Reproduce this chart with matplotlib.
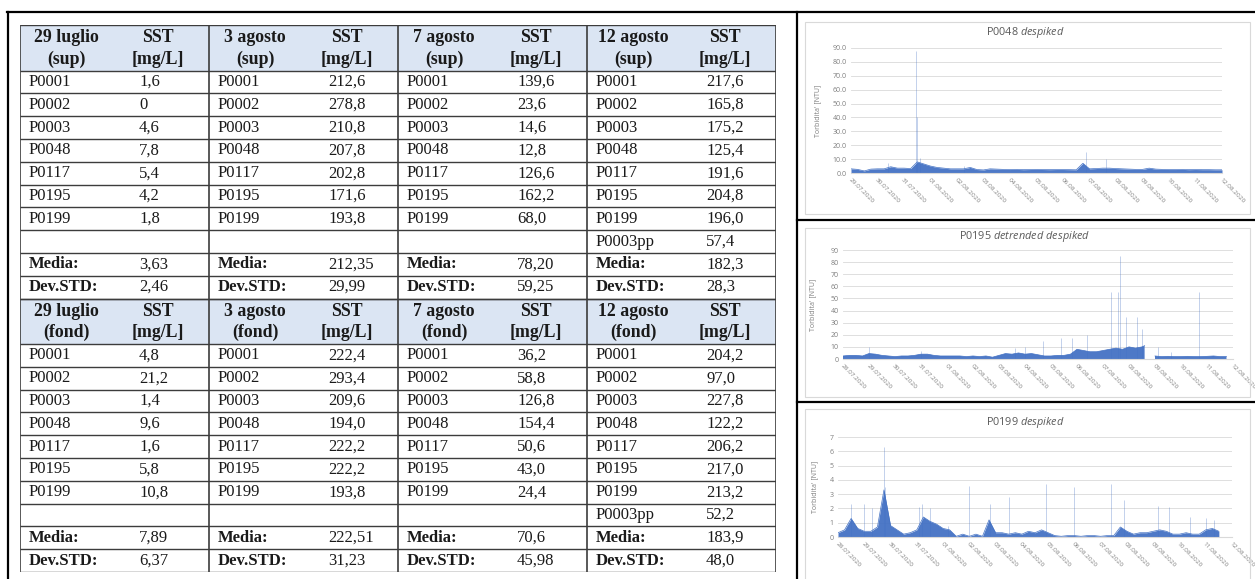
import matplotlib.pyplot as plt
import numpy as np
from matplotlib.lines import Line2D
from matplotlib.patches import Rectangle

plt.rcParams['mathtext.fontset'] = 'custom'
plt.rcParams['mathtext.rm'] = 'Open Sans'
plt.rcParams['mathtext.it'] = 'Open Sans:italic'

W, H = 1255, 579

# ── Table data ─────────────────────────────────────────────────────────
giorni = ["29 luglio", "3 agosto", "7 agosto", "12 agosto"]
stazioni = ["P0001", "P0002", "P0003", "P0048", "P0117", "P0195", "P0199"]

sst_sup = [
    ["1,6", "0", "4,6", "7,8", "5,4", "4,2", "1,8"],
    ["212,6", "278,8", "210,8", "207,8", "202,8", "171,6", "193,8"],
    ["139,6", "23,6", "14,6", "12,8", "126,6", "162,2", "68,0"],
    ["217,6", "165,8", "175,2", "125,4", "191,6", "204,8", "196,0"],
]
sst_fond = [
    ["4,8", "21,2", "1,4", "9,6", "1,6", "5,8", "10,8"],
    ["222,4", "293,4", "209,6", "194,0", "222,2", "222,2", "193,8"],
    ["36,2", "58,8", "126,8", "154,4", "50,6", "43,0", "24,4"],
    ["204,2", "97,0", "227,8", "122,2", "206,2", "217,0", "213,2"],
]
extra_staz = ["", "", "", "P0003pp"]
extra_sup = ["", "", "", "57,4"]
extra_fond = ["", "", "", "52,2"]
media_sup = ["3,63", "212,35", "78,20", "182,3"]
dev_sup = ["2,46", "29,99", "59,25", "28,3"]
media_fond = ["7,89", "222,51", "70,6", "183,9"]
dev_fond = ["6,37", "31,23", "45,98", "48,0"]

# ── Time series data (days after 28.07.2020, NTU) ─────────────────────
date_labels = ["28.07.2020", "29.07.2020", "30.07.2020", "31.07.2020",
               "01.08.2020", "02.08.2020", "03.08.2020", "04.08.2020",
               "05.08.2020", "06.08.2020", "07.08.2020", "08.08.2020",
               "09.08.2020", "10.08.2020", "11.08.2020", "12.08.2020"]

p0048_days = np.arange(1.0, 15.01, 0.25)
p0048_ntu = [3.0, 2.6, 1.5, 2.8, 3.0, 3.0, 4.5, 3.5, 3.5, 3.2, 8.0, 6.5,
             5.0, 4.0, 3.5, 3.0, 3.0, 3.0, 4.0, 2.5, 2.2, 3.0, 2.8, 2.6,
             2.5, 2.6, 2.4, 2.5, 2.6, 2.5, 2.4, 2.5, 2.5, 2.4, 2.3, 7.0,
             3.0, 3.2, 3.5, 3.5, 3.2, 3.0, 2.8, 2.6, 2.6, 3.5, 2.8, 2.6,
             2.5, 2.5, 2.6, 2.4, 2.5, 2.4, 2.4, 2.3, 2.3]
p0048_spk_days = [2.39, 3.47, 3.5, 3.6, 5.25, 9.87, 10.63]
p0048_spk_ntu = [7.0, 88.0, 40.0, 11.0, 5.0, 15.0, 10.0]

p0195_days = np.concatenate([np.arange(0.0, 11.51, 0.25), [11.6, 11.8],
                             np.arange(12.0, 14.76, 0.25)])
p0195_ntu = [2.5, 3.0, 3.0, 2.5, 4.5, 4.0, 3.0, 2.5, 2.0, 2.5, 2.5, 3.0,
             4.0, 4.0, 3.0, 2.5, 2.5, 2.5, 2.5, 2.0, 2.5, 2.0, 2.5, 1.5,
             3.0, 4.5, 4.0, 5.0, 4.0, 4.5, 3.5, 2.5, 2.5, 3.0, 3.0, 4.0,
             8.0, 7.0, 6.0, 6.0, 7.0, 8.0, 9.0, 8.0, 10.0, 9.0, 10.0, 11.0,
             np.nan,
             2.5, 2.0, 2.2, 2.0, 2.0, 2.2, 2.0, 2.0, 2.2, 2.5, 2.0, 2.0]
p0195_spk_days = [1.0, 3.0, 6.6, 7.0, 7.7, 8.4, 8.8, 9.4, 10.3, 10.58,
                  10.64, 10.9, 11.3, 11.5, 12.1, 12.6, 13.7]
p0195_spk_ntu = [10.0, 7.0, 9.0, 10.0, 15.0, 17.0, 17.0, 20.0, 55.0, 55.0,
                 85.0, 35.0, 35.0, 25.0, 10.0, 6.0, 55.0]

p0199_days = np.arange(0.0, 14.51, 0.25)
p0199_ntu = [0.3, 0.5, 1.3, 0.6, 0.4, 0.4, 0.7, 3.3, 0.8, 0.5, 0.2, 0.3,
             0.5, 1.4, 1.1, 0.9, 0.6, 0.5, 0.05, 0.2, 0.05, 0.2, 0.05, 1.2,
             0.3, 0.3, 0.2, 0.3, 0.2, 0.4, 0.3, 0.5, 0.3, 0.1, 0.05, 0.1,
             0.1, 0.05, 0.1, 0.1, 0.05, 0.1, 0.1, 0.7, 0.4, 0.2, 0.3, 0.3,
             0.4, 0.5, 0.4, 0.2, 0.2, 0.3, 0.2, 0.2, 0.5, 0.6, 0.4]
p0199_spk_days = [0.5, 1.0, 1.3, 1.75, 1.8, 3.1, 3.2, 3.5, 4.2, 5.0, 5.8,
                  6.5, 7.9, 9.0, 10.4, 10.9, 12.2, 12.6, 13.4, 14.0, 14.3]
p0199_spk_ntu = [2.3, 2.3, 2.0, 6.3, 3.5, 2.1, 2.3, 2.0, 0.8, 3.6, 2.3,
                 2.8, 3.7, 3.5, 3.7, 2.6, 2.2, 2.1, 1.4, 1.3, 1.2]

HEAD_BG = "#dbe5f3"
LINE_C = "#3c3c3c"
BLUE = "#4472c4"
GREY_TXT = "#7f7f7f"


def fig_line(fig, x0, y0, x1, y1, **kw):
    fig.add_artist(Line2D([x0 / W, x1 / W], [1 - y0 / H, 1 - y1 / H],
                          transform=fig.transFigure, **kw))


def px_axes(fig, x0, y0, x1, y1):
    return fig.add_axes([x0 / W, 1 - y1 / H, (x1 - x0) / W, (y1 - y0) / H])


# ── Table ──────────────────────────────────────────────────────────────

def draw_table(fig):
    ax = px_axes(fig, 20, 25, 776, 572)
    ax.set_xlim(0, 4)
    ax.set_ylim(24, 0)
    ax.axis('off')
    font = dict(family='Liberation Serif', fontsize=12, color='#1a1a1a')
    head = dict(family='Liberation Serif', fontsize=12.8, color='#1a1a1a',
                fontweight='bold', ha='center', va='center')

    blocks = [("sup", sst_sup, extra_sup, media_sup, dev_sup),
              ("fond", sst_fond, extra_fond, media_fond, dev_fond)]
    for b, (layer, vals, extra, media, dev) in enumerate(blocks):
        top = b * 12
        ax.add_patch(Rectangle((0, top), 4, 2, facecolor=HEAD_BG,
                               edgecolor='none'))
        for g in range(4):
            ax.text(g + 0.245, top + 0.57, giorni[g], **head)
            ax.text(g + 0.245, top + 1.5, f"({layer})", **head)
            ax.text(g + 0.73, top + 0.57, "SST", **head)
            ax.text(g + 0.73, top + 1.5, "[mg/L]", **head)
            for i, st in enumerate(stazioni):
                y = top + 2.5 + i
                ax.text(g + 0.045, y, st, ha='left', va='center', **font)
                ax.text(g + 0.63, y, vals[g][i], ha='left', va='center',
                        **font)
            ax.text(g + 0.045, top + 9.5, extra_staz[g], ha='left',
                    va='center', **font)
            ax.text(g + 0.63, top + 9.5, extra[g], ha='left', va='center',
                    **font)
            ax.text(g + 0.045, top + 10.5, "Media:", ha='left',
                    va='center', fontweight='bold', **font)
            ax.text(g + 0.63, top + 10.5, media[g], ha='left', va='center',
                    **font)
            ax.text(g + 0.045, top + 11.5, "Dev.STD:", ha='left',
                    va='center', fontweight='bold', **font)
            ax.text(g + 0.63, top + 11.5, dev[g], ha='left', va='center',
                    **font)
        ax.hlines([top] + list(range(top + 2, top + 13)), 0, 4,
                  color=LINE_C, lw=1.0)

    ax.vlines([0, 1, 2, 3, 4], 0, 24, color=LINE_C, lw=1.2)


# ── Time series panels ────────────────────────────────────────────────

def draw_chart(fig, box, frame, title_id, title_it, title_y,
               days, vals, spk_days, spk_vals, ymax, ystep, yfmt,
               first_day, xlim, ylabel_x):
    ax = px_axes(fig, *box)
    fig.add_artist(Rectangle((frame[0] / W, 1 - frame[3] / H),
                             (frame[2] - frame[0]) / W,
                             (frame[3] - frame[1]) / H,
                             transform=fig.transFigure, fill=False,
                             edgecolor='#d9d9d9', lw=0.8))

    ax.vlines(spk_days, 0, spk_vals, color=BLUE, lw=0.5, alpha=0.45)
    ax.fill_between(days, 0, vals, color=BLUE, lw=0, alpha=0.95)
    ax.plot(days, vals, color=BLUE, lw=0.5)

    ax.set_xlim(*xlim)
    ax.set_ylim(0, ymax)
    yt = np.arange(0, ymax + 0.01, ystep)
    ax.set_yticks(yt)
    ax.set_yticklabels([yfmt.format(v) for v in yt])
    xt = np.arange(first_day, 16)
    ax.set_xticks(xt)
    ax.set_xticklabels(date_labels[first_day:], rotation=-45, ha='left',
                       va='top', rotation_mode='anchor')
    ax.grid(axis='y', color='#d9d9d9', lw=0.6)
    ax.set_axisbelow(True)
    for s in ('top', 'right', 'left'):
        ax.spines[s].set_visible(False)
    ax.spines['bottom'].set_color('#d9d9d9')
    ax.tick_params(length=0, labelcolor=GREY_TXT, labelsize=5, pad=3)
    for lbl in ax.get_xticklabels() + ax.get_yticklabels():
        lbl.set_family('Open Sans')
    for lbl in ax.get_xticklabels():
        lbl.set_fontsize(4.6)

    ax.text(ylabel_x / W, (1 - box[1] / H + 1 - box[3] / H) / 2,
            "Torbidita' [NTU]", transform=fig.transFigure, rotation=90,
            ha='center', va='center', fontsize=5, color=GREY_TXT,
            family='Open Sans')
    it = title_it.replace(" ", r"\ ")
    fig.text(1025 / W, 1 - title_y / H, f"{title_id} $\\mathit{{{it}}}$",
             ha='center', va='center', fontsize=7.8, color='#595959',
             family='Open Sans')


fig = plt.figure(figsize=(W / 100, H / 100), dpi=100)
fig.patch.set_facecolor('white')

draw_table(fig)

draw_chart(fig, (851, 48, 1222, 173), (805, 22, 1250, 214),
           "P0048", "despiked", 33,
           p0048_days, p0048_ntu, p0048_spk_days, p0048_spk_ntu,
           90, 10, "{:.1f}", 1, (1, 15), 818)
draw_chart(fig, (843, 250, 1233, 359), (805, 228, 1250, 397),
           "P0195", "detrended despiked", 237,
           p0195_days, p0195_ntu, p0195_spk_days, p0195_spk_ntu,
           90, 10, "{:.0f}", 0, (0, 15), 813)
draw_chart(fig, (838, 437, 1232, 537), (805, 409, 1250, 590),
           "P0199", "despiked", 422,
           p0199_days, p0199_ntu, p0199_spk_days, p0199_spk_ntu,
           7, 1, "{:.0f}", 0, (0, 15), 815)

# outer black frame
frame_kw = dict(color='black', lw=1.6)
fig_line(fig, 7, 12, 1255, 12, **frame_kw)
fig_line(fig, 8, 12, 8, 579, **frame_kw)
fig_line(fig, 797, 12, 797, 579, **frame_kw)
fig_line(fig, 797, 220, 1255, 220, **frame_kw)
fig_line(fig, 797, 402, 1255, 402, **frame_kw)

fig.savefig("out.png", dpi=100)
